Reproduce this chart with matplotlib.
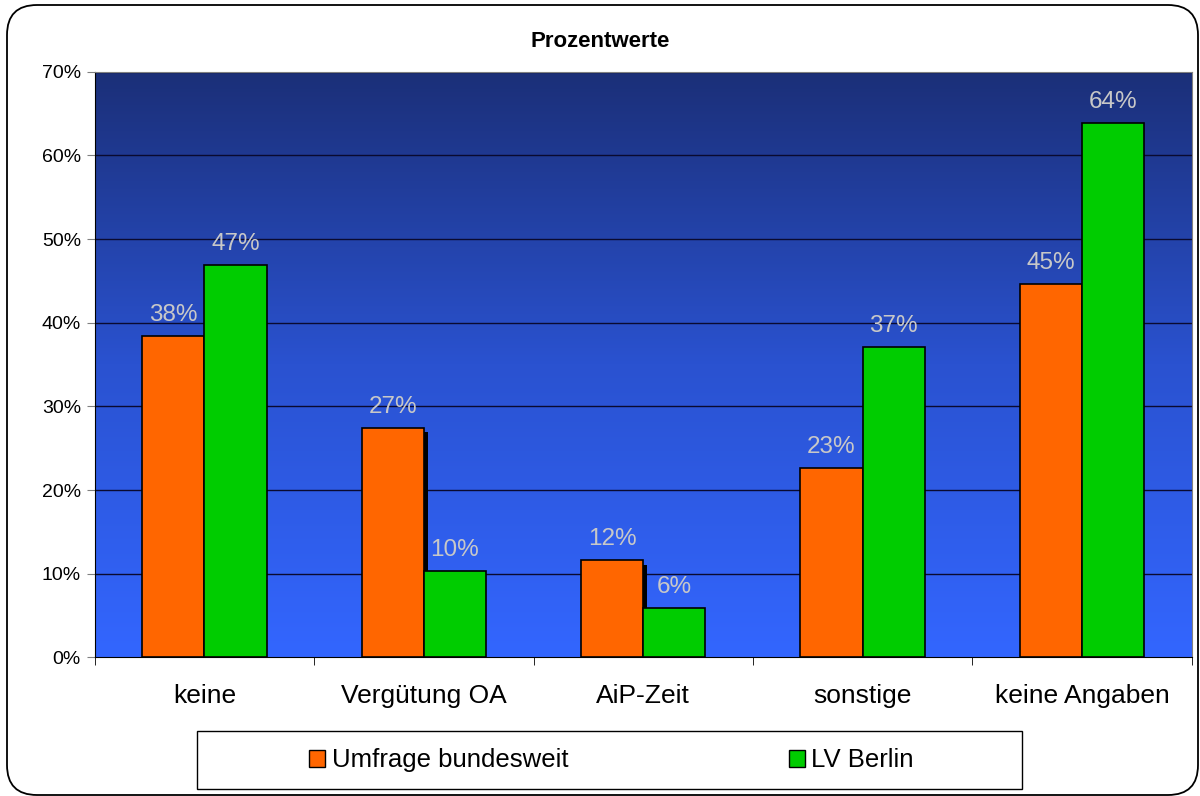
import matplotlib
matplotlib.use("Agg")
import matplotlib.pyplot as plt
import numpy as np
from matplotlib.patches import FancyBboxPatch, Patch, Rectangle
import matplotlib.patheffects as pe
from matplotlib.colors import LinearSegmentedColormap

plt.rcParams['font.family'] = ['Liberation Sans', 'DejaVu Sans']

categories = ["keine", "Vergütung OA", "AiP-Zeit", "sonstige", "keine Angaben"]
bundesweit = [38.4, 27.4, 11.6, 22.6, 44.6]
berlin = [46.9, 10.3, 5.9, 37.1, 63.9]
labels_bund = ["38%", "27%", "12%", "23%", "45%"]
labels_berlin = ["47%", "10%", "6%", "37%", "64%"]
series_names = ["Umfrage bundesweit", "LV Berlin"]
yticks = [0, 10, 20, 30, 40, 50, 60, 70]

fig = plt.figure(figsize=(12, 7.96), dpi=100)
border = FancyBboxPatch((7 / 1200, 1 / 796), 1191 / 1200, 790 / 796, boxstyle="round,pad=0,rounding_size=0.025",
                        transform=fig.transFigure, facecolor="none", edgecolor="black", linewidth=1.3,
                        mutation_aspect=12/7.96, zorder=10)
fig.patches.append(border)

ax = fig.add_axes([0.079, 0.174, 0.914, 0.736])
x = np.arange(len(categories))
w = 0.283

cmap = LinearSegmentedColormap.from_list("bg", ["#3366ff", "#2a52d0", "#1b2f78"])
grad = np.linspace(0, 1, 256).reshape(-1, 1)
ax.imshow(grad, aspect="auto", cmap=cmap, origin="lower", extent=[0, 1, 0, 1],
          transform=ax.transAxes, zorder=0)

for yv in yticks[1:]:
    ax.axhline(yv, color="#0a0a30", linewidth=1.0, zorder=1)

shadow = [pe.SimplePatchShadow(offset=(3, -3), shadow_rgbFace="black", alpha=1.0), pe.Normal()]
b1 = ax.bar(x - w / 2, bundesweit, w, color="#ff6600", edgecolor="black", linewidth=1.2, zorder=3)
for p in b1:
    p.set_path_effects(shadow)
b2 = ax.bar(x + w / 2, berlin, w, color="#00cc00", edgecolor="black", linewidth=1.2, zorder=4)

for xi, v, lab in zip(x - w / 2, bundesweit, labels_bund):
    ax.text(xi, v + 1.2, lab, ha="center", va="bottom", color="#c8c8c8", fontsize=17.5, zorder=5)
for xi, v, lab in zip(x + w / 2, berlin, labels_berlin):
    ax.text(xi, v + 1.2, lab, ha="center", va="bottom", color="#c8c8c8", fontsize=17.5, zorder=5)

ax.set_xlim(-0.5, len(categories) - 0.5)
ax.set_ylim(0, 70)
ax.set_yticks(yticks)
ax.set_yticklabels([f"{v}%" for v in yticks], fontsize=14)
ax.set_xticks(x)
ax.set_xticklabels(categories, fontsize=19)
ax.tick_params(axis="x", length=0, pad=19)
ax.set_xticks(np.arange(len(categories) + 1) - 0.5, minor=True)
ax.tick_params(axis="x", which="minor", length=6, direction="out", color="black")
ax.tick_params(axis="y", length=6, direction="out", color="#808080", pad=4)
for s in ["top", "right"]:
    ax.spines[s].set_color("#808080")
ax.spines["left"].set_color("black")
ax.spines["bottom"].set_color("black")

fig.text(0.5, 0.948, "Prozentwerte", ha="center", va="center", fontsize=16, fontweight="bold")

frame = Rectangle((197 / 1200, 1 - 789 / 796), (1022 - 197) / 1200, 58 / 796, transform=fig.transFigure,
                  facecolor="white", edgecolor="black", linewidth=1.0, zorder=2)
fig.patches.append(frame)
handles = [Patch(facecolor="#ff6600", edgecolor="black"), Patch(facecolor="#00cc00", edgecolor="black")]
leg = fig.legend(handles, series_names, loc="center left", bbox_to_anchor=(309 / 1200, 0.045), ncol=2,
                 fontsize=18.5, frameon=False, borderpad=0, borderaxespad=0,
                 handlelength=0.62, handleheight=0.66, handletextpad=0.27, columnspacing=8.57)
leg.set_zorder(11)
fig.savefig("out.png", dpi=100)
